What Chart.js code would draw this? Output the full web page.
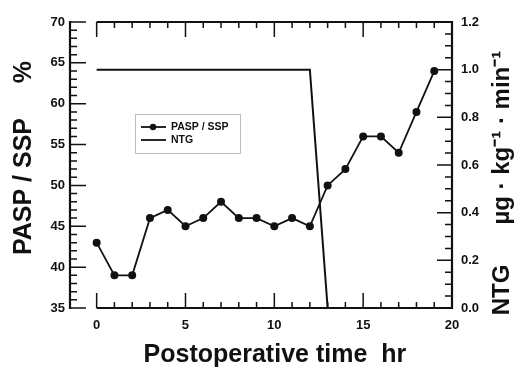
<!DOCTYPE html>
<html>
<head>
<meta charset="utf-8">
<script src="https://cdn.jsdelivr.net/npm/chart.js@4"></script>
<style>
  html, body { margin: 0; padding: 0; background: #fff; }
  #chart { display: block; }
</style>
</head>
<body>
<canvas id="chart" width="523" height="370"></canvas>
<script>
// data
const hours = [0, 1, 2, 3, 4, 5, 6, 7, 8, 9, 10, 11, 12, 13, 14, 15, 16, 17, 18, 19];
const paspSsp = [43, 39, 39, 46, 47, 45, 46, 48, 46, 46, 45, 46, 45, 50, 52, 56, 56, 54, 59, 64];
const ntgHours = [0, 12, 13];
const ntgDose = [1.0, 1.0, 0.0];

// axes
const xTicks = [0, 5, 10, 15, 20];
const leftTicks = [35, 40, 45, 50, 55, 60, 65, 70];
const rightTicks = [0.0, 0.2, 0.4, 0.6, 0.8, 1.0, 1.2];

const FONT = "'Liberation Sans', Arial, Helvetica, sans-serif";
const INK = '#111';

// frame + minor/major ticks (inward), right title and legend
const framePlugin = {
  id: 'frame',
  afterDraw(chart) {
    const ctx = chart.ctx;
    const area = chart.chartArea;
    const x = chart.scales.x, yl = chart.scales.y, yr = chart.scales.y2;
    const x0 = x.getPixelForValue(0);
    ctx.save();
    ctx.strokeStyle = INK;
    ctx.lineCap = 'butt';

    // spines
    ctx.lineWidth = 2.2;
    ctx.beginPath();
    ctx.moveTo(x0, area.top); ctx.lineTo(area.right, area.top);
    ctx.moveTo(x0, area.bottom); ctx.lineTo(area.right, area.bottom);
    ctx.moveTo(area.left, area.top - 1); ctx.lineTo(area.left, area.bottom + 1);
    ctx.moveTo(area.right, area.top - 1); ctx.lineTo(area.right, area.bottom + 1);
    ctx.stroke();

    ctx.lineWidth = 1.5;
    ctx.beginPath();
    // x ticks top & bottom, every hour
    for (let v = 0; v <= 20; v++) {
      const px = x.getPixelForValue(v);
      const len = v % 5 === 0 ? 15 : 6;
      ctx.moveTo(px, area.top); ctx.lineTo(px, area.top + len);
      ctx.moveTo(px, area.bottom); ctx.lineTo(px, area.bottom - len);
    }
    // left ticks, every 1 %
    for (let v = 35; v <= 70; v++) {
      const py = yl.getPixelForValue(v);
      const len = v % 5 === 0 ? 16 : 7;
      ctx.moveTo(area.left, py); ctx.lineTo(area.left + len, py);
    }
    // right ticks, every 0.05
    for (let i = 0; i <= 24; i++) {
      const py = yr.getPixelForValue(i * 0.05);
      const len = i % 4 === 0 ? 15 : 7;
      ctx.moveTo(area.right, py); ctx.lineTo(area.right - len, py);
    }
    ctx.stroke();

    // right axis title, reading bottom-to-top
    ctx.fillStyle = INK;
    ctx.font = 'bold 24px ' + FONT;
    ctx.textAlign = 'center';
    ctx.textBaseline = 'middle';
    ctx.translate(502, (area.top + area.bottom) / 2 + 18);
    ctx.rotate(-Math.PI / 2);
    ctx.fillText('NTG      \u00B5g \u00B7 kg\u207B\u00B9 \u00B7 min\u207B\u00B9', 0, 0);
    ctx.restore();

    // legend box
    ctx.save();
    const lx = area.left + 65, ly = area.top + 92;
    ctx.strokeStyle = '#bdbdbd';
    ctx.lineWidth = 1;
    ctx.strokeRect(lx + 0.5, ly + 0.5, 105, 39);
    ctx.strokeStyle = INK;
    ctx.fillStyle = INK;
    ctx.lineWidth = 1.8;
    ctx.font = 'bold 10.5px ' + FONT;
    ctx.textAlign = 'left';
    ctx.textBaseline = 'middle';
    chart.data.datasets.forEach((ds, i) => {
      const yy = ly + 13 + i * 13;
      ctx.beginPath();
      ctx.moveTo(lx + 6, yy); ctx.lineTo(lx + 31, yy);
      ctx.stroke();
      if (ds.pointRadius) {
        ctx.beginPath();
        ctx.arc(lx + 18, yy, 3.2, 0, Math.PI * 2);
        ctx.fill();
      }
      ctx.fillText(ds.label, lx + 36, yy + 0.5);
    });
    ctx.restore();
  }
};

new Chart(document.getElementById('chart'), {
  type: 'line',
  data: {
    datasets: [
      {
        label: 'PASP / SSP',
        data: hours.map((h, i) => ({ x: h, y: paspSsp[i] })),
        yAxisID: 'y',
        borderColor: INK,
        backgroundColor: INK,
        borderWidth: 1.8,
        pointRadius: 4,
        pointBorderWidth: 0,
        tension: 0
      },
      {
        label: 'NTG',
        data: ntgHours.map((h, i) => ({ x: h, y: ntgDose[i] })),
        yAxisID: 'y2',
        borderColor: INK,
        backgroundColor: INK,
        borderWidth: 2,
        pointRadius: 0,
        tension: 0
      }
    ]
  },
  options: {
    responsive: false,
    animation: false,
    devicePixelRatio: 1,
    layout: { padding: { top: 22, left: 0, right: 0, bottom: 0 } },
    plugins: { legend: { display: false }, tooltip: { enabled: false } },
    scales: {
      x: {
        type: 'linear',
        min: -1.5,
        max: 20,
        afterBuildTicks: s => { s.ticks = xTicks.map(v => ({ value: v })); },
        afterFit: s => { s.height = 62; },
        grid: { display: false, drawTicks: false },
        border: { display: false },
        ticks: { color: INK, padding: 10, font: { family: FONT, size: 13, weight: 'bold' }, maxRotation: 0 },
        title: {
          display: true,
          text: '    Postoperative time  hr',
          color: INK,
          font: { family: FONT, size: 25, weight: 'bold' },
          padding: { top: 0, bottom: 0 }
        }
      },
      y: {
        position: 'left',
        min: 35,
        max: 70,
        afterBuildTicks: s => { s.ticks = leftTicks.map(v => ({ value: v })); },
        afterFit: s => { s.width = 70; },
        grid: { display: false, drawTicks: false },
        border: { display: false },
        ticks: { color: INK, padding: 5, font: { family: FONT, size: 13, weight: 'bold' } },
        title: {
          display: true,
          text: '  PASP / SSP     %',
          color: INK,
          font: { family: FONT, size: 25, weight: 'bold' },
          padding: { top: 9, bottom: 0 }
        }
      },
      y2: {
        position: 'right',
        min: 0,
        max: 1.2,
        afterBuildTicks: s => { s.ticks = rightTicks.map(v => ({ value: v })); },
        afterFit: s => { s.width = 71; },
        grid: { display: false, drawTicks: false },
        border: { display: false },
        ticks: {
          color: INK,
          padding: 9,
          font: { family: FONT, size: 13, weight: 'bold' },
          callback: v => Number(v).toFixed(1)
        }
      }
    }
  },
  plugins: [framePlugin]
});
</script>
</body>
</html>
